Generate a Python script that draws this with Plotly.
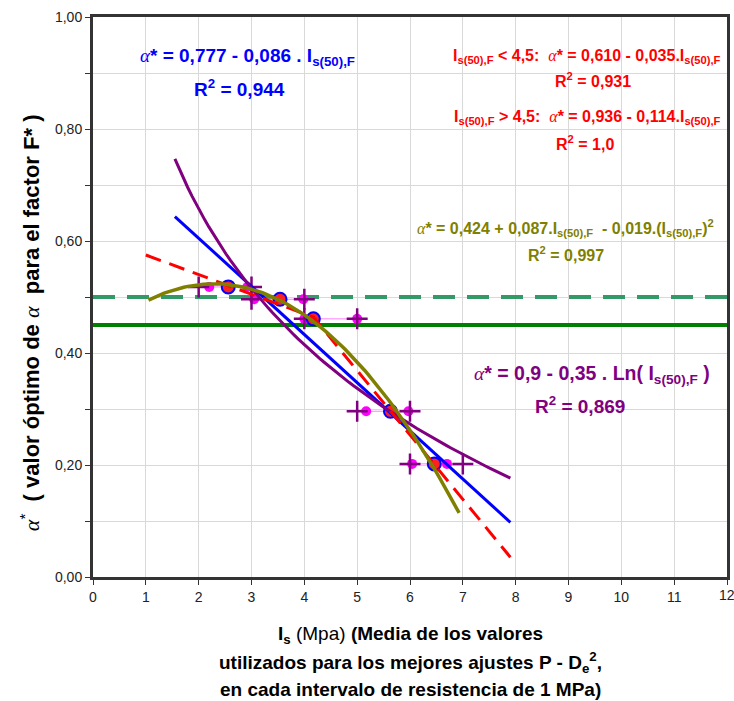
import numpy as np
import plotly.graph_objects as go

# ---- data ----
pt_x = [2.56, 3.54, 4.17, 5.63, 6.46]          # mean Is per interval
pt_alpha = [0.518, 0.496, 0.461, 0.296, 0.202]  # optimum alpha*
min_x = [2.20, 3.05, 4.00, 5.17, 6.04]          # min value used (magenta)
max_x = [2.92, 3.98, 5.00, 5.97, 6.70]          # max value used (magenta)
int_lo = [2, 3, 4, 5, 6]                        # interval bounds (+)
int_hi = [3, 4, 5, 6, 7]

# trend-line coefficients shown on the chart
lin_coef = [0.777, -0.086]; lin_range = [1.55, 7.9]
log_coef = [0.9, -0.35]; log_range = [1.55, 7.9]
quad_coef = [0.424, 0.087, -0.019]; quad_range = [1.05, 6.93]
pw1_coef = [0.610, -0.035]; pw2_coef = [0.936, -0.114]
pw_x = [1.0, 4.17, 7.9]

ref_hi = 0.50
ref_lo = 0.45

x_ticks = list(range(0, 13))
x_ticktext = [str(v) for v in range(0, 12)] + [""]
x_last_tick = 12

ALPHA = "<span style=\"font-family:'Liberation Serif',serif;font-style:italic;font-weight:normal\">α</span>"
FONT = "Liberation Sans, Arial, sans-serif"

fig = go.Figure()

# horizontal reference lines
fig.add_trace(go.Scatter(x=[0, 12], y=[ref_hi, ref_hi], mode="lines",
                         line=dict(color="#339966", width=4, dash="22px,12px"), hoverinfo="skip"))
fig.add_trace(go.Scatter(x=[0, 12], y=[ref_lo, ref_lo], mode="lines",
                         line=dict(color="#008000", width=4), hoverinfo="skip"))

# ranges: thin magenta lines + dots, purple crosses
for i in range(len(pt_x)):
    fig.add_trace(go.Scatter(x=[min_x[i], max_x[i]], y=[pt_alpha[i]] * 2, mode="lines+markers",
                             line=dict(color="#ff80ff", width=1),
                             marker=dict(color="#ff00ff", size=10), hoverinfo="skip"))
    fig.add_trace(go.Scatter(x=[int_lo[i], int_hi[i]], y=[pt_alpha[i]] * 2, mode="markers",
                             marker=dict(symbol="cross-thin", size=15, line=dict(color="#800080", width=2.5)),
                             hoverinfo="skip"))

# main points
fig.add_trace(go.Scatter(x=pt_x, y=pt_alpha, mode="markers",
                         marker=dict(color="#ff2020", size=13, line=dict(color="#0000ff", width=2)),
                         hoverinfo="skip"))

# trend lines
xl = np.array(lin_range)
fig.add_trace(go.Scatter(x=xl, y=lin_coef[0] + lin_coef[1] * xl, mode="lines",
                         line=dict(color="#0000ff", width=3), hoverinfo="skip"))
xg = np.linspace(log_range[0], log_range[1], 80)
fig.add_trace(go.Scatter(x=xg, y=log_coef[0] + log_coef[1] * np.log(xg), mode="lines",
                         line=dict(color="#800080", width=3), hoverinfo="skip"))
pw_y = [pw1_coef[0] + pw1_coef[1] * pw_x[0], pw1_coef[0] + pw1_coef[1] * pw_x[1],
        pw2_coef[0] + pw2_coef[1] * pw_x[2]]
fig.add_trace(go.Scatter(x=pw_x, y=pw_y, mode="lines",
                         line=dict(color="#ff0000", width=3, dash="16px,9px"), hoverinfo="skip"))
xq = np.linspace(quad_range[0], quad_range[1], 80)
fig.add_trace(go.Scatter(x=xq, y=quad_coef[0] + quad_coef[1] * xq + quad_coef[2] * xq ** 2, mode="lines",
                         line=dict(color="#808000", width=3.5), hoverinfo="skip"))

SUB = "<sub>s(50),F</sub>"
ann = []
def A(x, y, text, color, size, xanchor="center", xref="x", yref="y", angle=0, yanchor="middle"):
    ann.append(dict(x=x, y=y, xref=xref, yref=yref, text=text, showarrow=False,
                    font=dict(family=FONT, size=size, color=color), xanchor=xanchor,
                    yanchor=yanchor, textangle=angle))

A(2.93, 0.929, f"{ALPHA}<b>* = 0,777 - 0,086 . I{SUB}</b>", "#0000ff", 19)
A(2.78, 0.873, "<b>R<sup>2</sup> = 0,944</b>", "#0000ff", 19)
A(11.92, 0.929, f"<b>I{SUB} &lt; 4,5:  </b>{ALPHA}<b>* = 0,610 - 0,035.I{SUB}</b>", "#ff0000", 16, xanchor="right")
A(9.46, 0.8875, "<b>R<sup>2</sup> = 0,931</b>", "#ff0000", 16)
A(11.92, 0.820, f"<b>I{SUB} &gt; 4,5:  </b>{ALPHA}<b>* = 0,936 - 0,114.I{SUB}</b>", "#ff0000", 16, xanchor="right")
A(9.31, 0.775, "<b>R<sup>2</sup> = 1,0</b>", "#ff0000", 16)
A(8.95, 0.623, f"{ALPHA}<b>* = 0,424 + 0,087.I{SUB}  - 0,019.(I{SUB})<sup>2</sup></b>", "#808000", 16)
A(8.95, 0.577, "<b>R<sup>2</sup> = 0,997</b>", "#808000", 16)
A(9.45, 0.361, f"{ALPHA}<b>* = 0,9 - 0,35 . Ln( I{SUB} )</b>", "#800080", 19.5)
A(9.22, 0.307, "<b>R<sup>2</sup> = 0,869</b>", "#800080", 19)

# last x tick label (partly off the page, as in the reference)
A(x_last_tick, -0.0325, str(x_last_tick), "#222", 14, yref="paper", yanchor="middle")

# axis titles
A(0.5, -0.1036, "<b>I<sub>s</sub></b> (Mpa) <b>(Media de los valores</b>", "#000000", 19, xref="paper", yref="paper")
A(0.5, -0.152, "<b>utilizados para los mejores ajustes P - D<sub>e</sub><sup>2</sup>,</b>", "#000000", 19, xref="paper", yref="paper")
A(0.5, -0.200, "<b>en cada intervalo de resistencia de 1 MPa)</b>", "#000000", 19, xref="paper", yref="paper")
A(-0.0994, 0.455, f"{ALPHA}<sup>*</sup><b>  ( valor óptimo de </b>{ALPHA}<b>  para el factor F* )</b>", "#000000", 22,
  xref="paper", yref="paper", angle=-90)

fig.update_layout(
    width=734, height=701, margin=dict(l=93, r=7, t=17, b=124, autoexpand=False),
    paper_bgcolor="white", plot_bgcolor="white", showlegend=False,
    separators=",.", annotations=ann,
    font=dict(family=FONT, size=14, color="#222"),
)
fig.update_xaxes(range=[0, 12], tickvals=x_ticks, ticktext=x_ticktext, showgrid=True, gridcolor="#d9d9d9",
                 gridwidth=1, showline=True, mirror=True, linewidth=3, linecolor="#333333", automargin=False,
                 ticks="outside", ticklen=5, tickcolor="#333333", zeroline=False,
                 tickfont=dict(size=14, color="#222"))
fig.update_yaxes(range=[0, 1], dtick=0.2, tickformat=".2f", showgrid=True, gridcolor="#d9d9d9", gridwidth=1,
                 showline=True, mirror=True, linewidth=3, linecolor="#333333", automargin=False,
                 ticks="outside", ticklen=5, tickcolor="#333333", zeroline=False,
                 tickfont=dict(size=14, color="#222"),
                 minor=dict(dtick=0.1, showgrid=True, gridcolor="#d9d9d9", ticks="outside", ticklen=5,
                            tickcolor="#333333"))

fig.write_html("out.html", config={"displayModeBar": False},
               post_script="document.body.style.margin='0';document.body.style.overflow='hidden';")
